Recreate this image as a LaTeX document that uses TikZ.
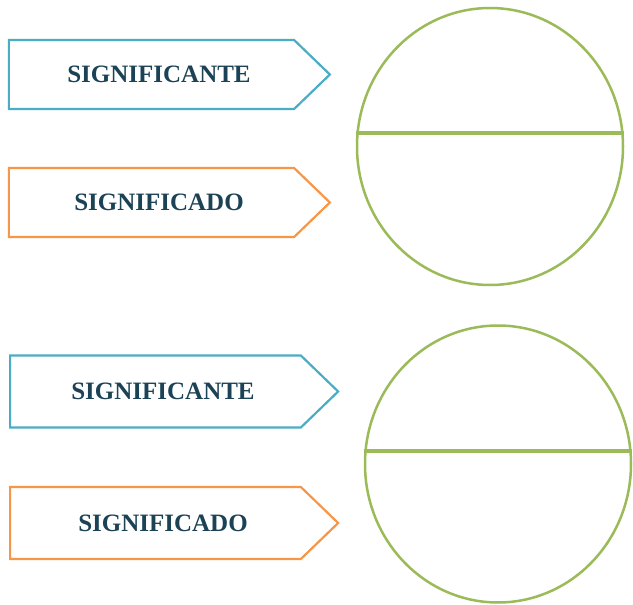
\documentclass[tikz,border=0pt]{standalone}
\usepackage{fontspec}
\setmainfont{Liberation Serif}
\usetikzlibrary{shapes.symbols,shapes.geometric}
\definecolor{tagblue}{RGB}{75,172,198}
\definecolor{tagorange}{RGB}{247,150,70}
\definecolor{signgreen}{RGB}{155,187,89}
\definecolor{labelink}{RGB}{28,66,86}
\tikzset{
  tag/.style    ={signal, signal to=east, signal pointer angle=88,
    minimum width=321pt, minimum height=69pt, line width=2.2pt,
    inner sep=0pt, text=labelink, execute at begin node=\hspace{15pt},
    font=\fontsize{25}{30}\selectfont\bfseries},
  signifier/.style={tag, draw=tagblue},
  signified/.style={tag, draw=tagorange},
  wide/.style   ={minimum width=328pt, minimum height=72pt},
  sign/.style   ={ellipse, draw=signgreen, line width=2.5pt,
    minimum width=266pt, minimum height=277pt, inner sep=0pt},
  bar/.style    ={draw=signgreen, line width=3.5pt}}

\begin{document}
\begin{tikzpicture}[x=1pt,y=-1pt]
\useasboundingbox (0,0) rectangle (633,605);

% first sign
\node[signifier] (sa1) at (151.5,74.5)  {SIGNIFICANTE};
\node[signified] (so1) at (151.5,202.5) {SIGNIFICADO};
\node[sign] (s1) at (490,146.5) {};
\path[bar] ([yshift=13.5pt]s1.west) -- ([yshift=13.5pt]s1.east);

% second sign
\node[signifier,wide] (sa2) at (155.5,391.5) {SIGNIFICANTE};
\node[signified,wide] (so2) at (155.5,523)   {SIGNIFICADO};
\node[sign] (s2) at (498,464) {};
\path[bar] ([yshift=13pt]s2.west) -- ([yshift=13pt]s2.east);
\end{tikzpicture}
\end{document}
